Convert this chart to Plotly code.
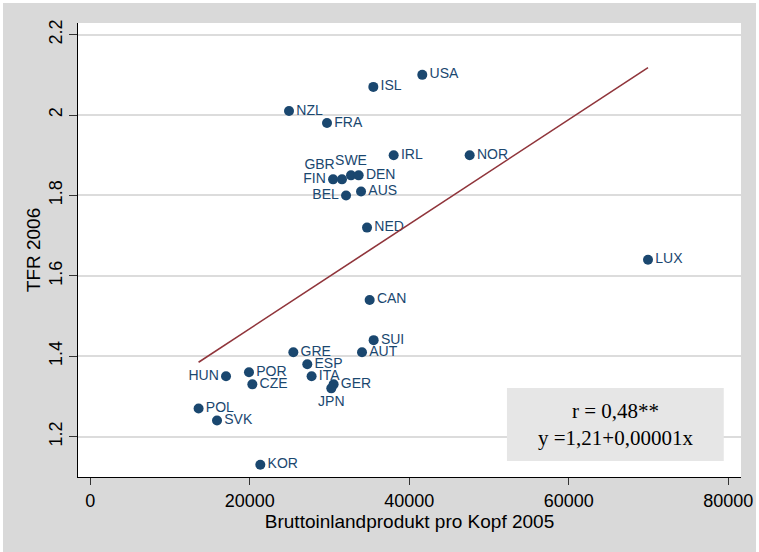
import plotly.graph_objects as go

countries = ["USA", "ISL", "NZL", "FRA", "FIN", "GBR", "SWE", "DEN", "BEL", "AUS",
             "NED", "IRL", "NOR", "LUX", "CAN", "SUI", "AUT", "GRE", "ESP", "ITA",
             "GER", "JPN", "HUN", "POR", "CZE", "POL", "SVK", "KOR"]
gdp_2005 = [41630, 35490, 24920, 29680, 30440, 31560, 32690, 33650, 32070, 33950,
            34700, 38040, 47570, 69930, 35030, 35530, 34070, 25460, 27210, 27750,
            30510, 30220, 17020, 19900, 20320, 13580, 15890, 21320]
tfr_2006 = [2.10, 2.07, 2.01, 1.98, 1.84, 1.84, 1.85, 1.85, 1.80, 1.81,
            1.72, 1.90, 1.90, 1.64, 1.54, 1.44, 1.41, 1.41, 1.38, 1.35,
            1.33, 1.32, 1.35, 1.36, 1.33, 1.27, 1.24, 1.13]
label_pos = {"FIN": "middle left", "HUN": "middle left", "BEL": "middle left",
             "GBR": "top left", "SWE": "top center", "JPN": "bottom center"}

fit_x = [13580, 69930]
fit_y = [1.385, 2.118]

x_ticks = [0, 20000, 40000, 60000, 80000]
y_ticks = [1.2, 1.4, 1.6, 1.8, 2.0, 2.2]
y_ticktext = ["1.2", "1.4", "1.6", "1.8", "2", "2.2"]

stats_text = "r = 0,48**<br>y =1,21+0,00001x"

navy = "#1a476f"
maroon = "#90353b"

fig = go.Figure()
fig.add_trace(go.Scatter(
    x=gdp_2005, y=tfr_2006, mode="markers+text",
    text=countries,
    textposition=[label_pos.get(c, "middle right") for c in countries],
    textfont=dict(family="Liberation Sans, Arial, sans-serif", size=14, color=navy),
    marker=dict(color=navy, size=10, line=dict(width=0)),
    hoverinfo="skip", showlegend=False, cliponaxis=False,
))
fig.add_trace(go.Scatter(
    x=fit_x, y=fit_y, mode="lines",
    line=dict(color=maroon, width=1.6),
    hoverinfo="skip", showlegend=False,
))

fig.add_shape(type="rect", xref="paper", yref="paper",
              x0=0.647, x1=0.974, y0=0.035, y1=0.196,
              fillcolor="#e6e6e6", line=dict(width=0), layer="above")
fig.add_annotation(xref="paper", yref="paper", x=0.8105, y=0.1155,
                   text=stats_text, showarrow=False, align="center",
                   xanchor="center", yanchor="middle",
                   font=dict(family="Liberation Serif, Times New Roman, serif",
                             size=21, color="#000000"))

axis_font = dict(family="Liberation Sans, Arial, sans-serif", size=18, color="#000000")

fig.update_layout(
    width=756, height=549,
    margin=dict(l=75, r=18, t=20, b=75),
    paper_bgcolor="#d9d9d9",
    plot_bgcolor="#ffffff",
    font=dict(family="Liberation Sans, Arial, sans-serif", color="#000000"),
    xaxis=dict(
        range=[-1540, 81590], tickvals=x_ticks,
        ticktext=[str(v) for v in x_ticks],
        showgrid=False, zeroline=False, automargin=False,
        showline=True, linecolor="#000000", linewidth=1,
        ticks="outside", ticklen=7, tickcolor="#333333", tickwidth=1,
        tickfont=axis_font,
        title=dict(text="Bruttoinlandprodukt pro Kopf 2005",
                   font=dict(family="Liberation Sans, Arial, sans-serif", size=19, color="#000000"),
                   standoff=2),
    ),
    yaxis=dict(
        range=[1.0995, 2.229], tickvals=y_ticks, ticktext=y_ticktext,
        showgrid=True, gridcolor="#dcdcdc", gridwidth=1.5, zeroline=False,
        automargin=False,
        showline=True, linecolor="#000000", linewidth=1,
        ticks="outside", ticklen=8, tickcolor="#333333", tickwidth=1,
        tickangle=-90, tickfont=axis_font,
        title=dict(text="TFR 2006",
                   font=dict(family="Liberation Sans, Arial, sans-serif", size=19, color="#000000"),
                   standoff=0),
    ),
)

fig.write_html("out.html", post_script="document.body.style.margin='3px';")
